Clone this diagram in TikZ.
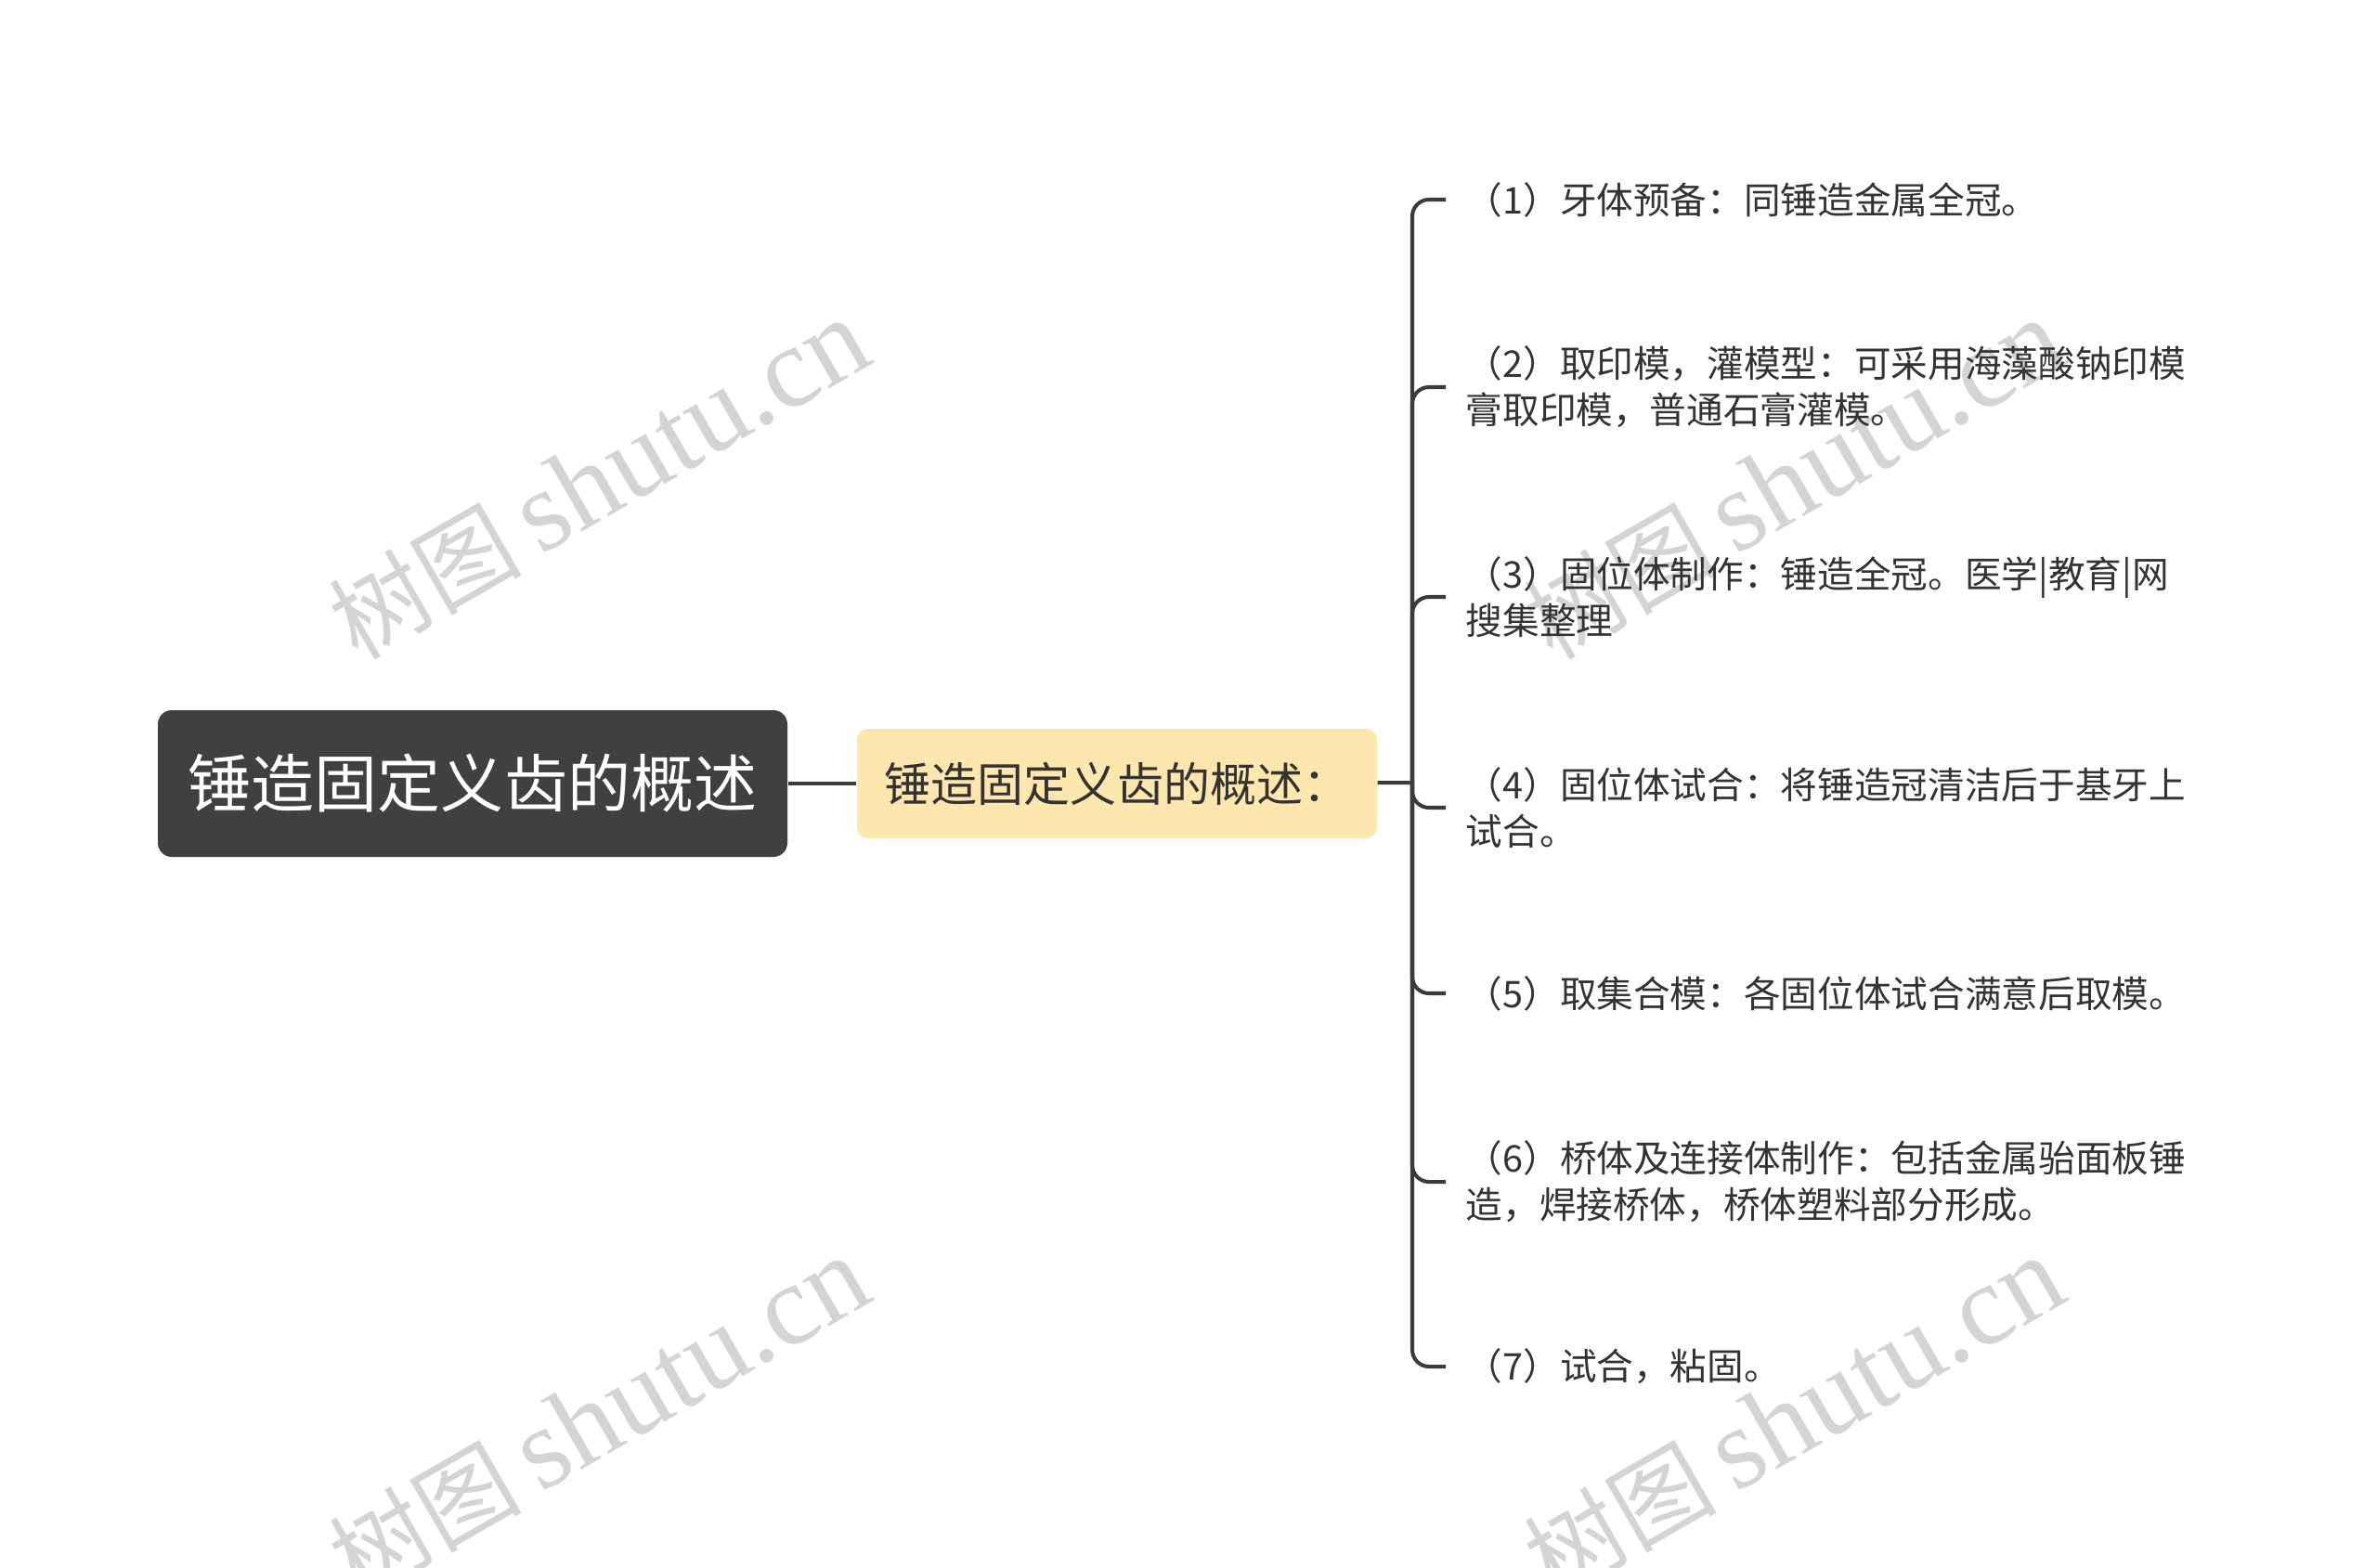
\documentclass[tikz,border=0pt]{standalone}
\usepackage{fontspec}
\newfontfamily\cjk{Noto Sans CJK SC}
\newfontfamily\wmserif{Liberation Serif}
\usetikzlibrary{positioning}
\definecolor{rootgray}{HTML}{404040}
\definecolor{subyellow}{HTML}{FEE7AF}
\definecolor{linegray}{HTML}{3B3B3B}
\definecolor{textgray}{HTML}{333333}
\definecolor{wmgray}{HTML}{D4D4D4}
\tikzset{
    rootbox/.style={fill=rootgray, rounded corners=0.15cm, minimum width=6.78cm, minimum height=1.58cm,
        inner sep=0pt, text=white, font=\cjk\fontsize{19.35pt}{24pt}\selectfont},
    subbox/.style={fill=subyellow, rounded corners=0.12cm, minimum width=5.6cm, minimum height=1.18cm,
        inner sep=0pt, text=textgray, font=\cjk\fontsize{14.23pt}{18pt}\selectfont},
    leaf/.style={anchor=west, inner sep=0pt, align=left, text=textgray,
        font=\cjk\fontsize{11.28pt}{14.23pt}\selectfont},
    branch/.style={draw=linegray, line width=1.15pt, rounded corners=0.18cm},
    wm/.style={text=wmgray, rotate=30, inner sep=0pt, font=\fontsize{35.3pt}{42pt}\selectfont},
}
\newcommand{\wmtext}{{\cjk\fontsize{29.5pt}{36pt}\selectfont 树图}\,{\wmserif shutu.cn}}

\begin{document}
\begin{tikzpicture}
	\useasboundingbox (0,0) rectangle (25.6,-16.88);
	\clip (0,0) rectangle (25.6,-16.88);
	% watermarks
	\node[wm] (wm1) at (6.45,-5.17) {\wmtext};
	\node[wm] (wm2) at (19.32,-5.17) {\wmtext};
	\node[wm] (wm3) at (6.45,-15.27) {\wmtext};
	\node[wm] (wm4) at (19.32,-15.27) {\wmtext};
	% main topic and subtopic
	\node[rootbox] (root) at (5.09,-8.44) {锤造固定义齿的概述};
	\node[subbox] (sub) at (12.03,-8.44) {锤造固定义齿的概述：};
	\coordinate (hub) at (15.21,-8.43);
	\draw[branch] (root) -- (sub);
	\draw[branch] (sub) -- (hub);
	% steps
	\node[leaf] (s1) at (15.78,-2.15) {（1）牙体预备：同锤造金属全冠。};
	\node[leaf] (s2) at (15.78,-4.17) {（2）取印模，灌模型：可采用海藻酸钠印模\\膏取印模，普通石膏灌模。};
	\node[leaf] (s3) at (15.78,-6.43) {（3）固位体制作：锤造全冠。医学|教育|网\\搜集整理};
	\node[leaf] (s4) at (15.78,-8.70) {（4）固位体试合：将锤造冠清洁后于基牙上\\试合。};
	\node[leaf] (s5) at (15.78,-10.70) {（5）取集合模：各固位体试合满意后取模。};
	\node[leaf] (s6) at (15.78,-12.73) {（6）桥体及连接体制作：包括金属骀面板锤\\造，焊接桥体，桥体塑料部分形成。};
	\node[leaf] (s7) at (15.78,-14.72) {（7）试合，粘固。};
	\foreach \i in {1,...,7}
		\draw[branch] (hub) |- ([xshift=-2.1mm]s\i.west);
\end{tikzpicture}
\end{document}
